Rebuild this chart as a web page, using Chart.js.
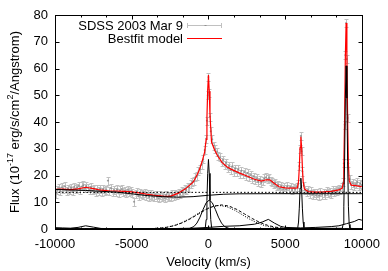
<!DOCTYPE html>
<html><head><meta charset="utf-8">
<script src="https://cdn.jsdelivr.net/npm/chart.js@4/dist/chart.umd.min.js"></script>
<style>html,body{margin:0;padding:0;background:#fff}#wrap{width:388px;height:271px}</style>
</head><body><div id="wrap"><canvas id="c" width="388" height="271"></canvas></div>
<script>
// ---- axis ticks ----
const xTickValues = [-10000, -5000, 0, 5000, 10000];
const xMinorTickValues = [-8333, -6667, -3333, -1667, 1667, 3333, 6667, 8333];
const yTickValues = [0, 10, 20, 30, 40, 50, 60, 70, 80];

// ---- observed spectrum [velocity km/s, flux] ----
const observed = [
[-9950,13.2],[-9850,14.6],[-9750,15.3],[-9650,14.1],[-9550,15.6],[-9450,14.8],[-9350,15.9],[-9250,14.3],[-9150,15.1],[-9050,14.6],
[-8950,15.4],[-8850,14.2],[-8750,15.8],[-8650,14.9],[-8550,15.5],[-8450,16.1],[-8350,14.7],[-8250,15.9],[-8150,16.3],[-8050,15.2],
[-7950,16.0],[-7850,15.4],[-7750,14.6],[-7650,15.7],[-7550,14.4],[-7450,15.1],[-7350,13.9],[-7250,14.8],[-7150,14.2],[-7050,15.0],
[-6950,13.8],[-6850,14.9],[-6750,14.1],[-6650,14.6],[-6550,18.1],[-6450,14.3],[-6350,15.2],[-6250,13.7],[-6150,14.5],[-6050,14.0],
[-5950,14.8],[-5850,13.6],[-5750,14.4],[-5650,14.9],[-5550,13.8],[-5450,14.3],[-5350,13.5],[-5250,14.6],[-5150,13.9],[-5050,14.2],
[-4950,13.4],[-4850,10.2],[-4750,13.1],[-4650,13.9],[-4550,12.4],[-4450,13.6],[-4350,13.0],[-4250,12.7],[-4150,13.5],[-4050,12.3],
[-3950,13.1],[-3850,12.0],[-3750,12.9],[-3650,12.4],[-3550,11.8],[-3450,12.8],[-3350,12.1],[-3250,11.5],[-3150,12.6],[-3050,11.9],
[-2950,12.4],[-2850,11.6],[-2750,12.8],[-2650,11.9],[-2550,12.5],[-2450,12.0],[-2350,13.1],[-2250,12.4],[-2150,13.0],[-2050,12.6],
[-1950,13.4],[-1850,13.0],[-1750,14.1],[-1650,13.7],[-1550,14.9],[-1450,14.6],[-1350,15.8],[-1250,15.5],[-1150,16.9],[-1050,17.6],
[-950,17.8],[-850,19.4],[-750,19.9],[-650,21.6],[-550,22.4],[-450,24.1],[-350,26.0],[-250,29.5],[-150,33.8],
[-100,40.5],[-50,50.0],[0,56.8],[50,51.0],[100,42.0],[150,36.5],[250,33.5],[350,31.2],[450,29.8],[550,28.9],
[650,27.4],[750,26.8],[850,24.9],[950,25.8],[1050,23.9],[1150,24.8],[1250,22.7],[1350,23.6],[1450,22.1],[1550,23.4],
[1650,21.5],[1750,22.6],[1850,21.2],[1950,22.3],[2050,20.6],[2150,21.8],[2250,20.4],[2350,21.3],[2450,19.7],[2550,20.9],
[2650,19.4],[2750,20.2],[2850,18.7],[2950,19.6],[3050,18.2],[3150,19.0],[3250,17.6],[3350,18.5],[3450,17.3],[3550,18.1],
[3650,18.9],[3750,19.3],[3850,18.6],[3950,19.1],[4050,18.0],[4150,17.6],[4250,16.8],[4350,17.2],[4450,15.9],[4550,16.4],
[4650,15.2],[4750,16.0],[4850,14.9],[4950,15.6],[5050,14.8],[5150,16.0],[5250,15.1],[5350,15.7],[5450,14.6],[5550,15.4],
[5650,14.9],[5750,15.8],[5850,16.9],[5920,23.5],[5970,29.8],[6020,34.8],[6070,29.0],[6120,21.5],[6200,16.2],[6300,14.6],
[6400,13.8],[6500,14.5],[6600,13.2],[6700,14.1],[6800,12.9],[6900,13.6],[7000,12.6],[7100,13.4],[7200,12.5],[7300,13.9],
[7400,12.8],[7500,13.5],[7600,12.7],[7700,14.2],[7800,13.3],[7900,14.0],[8000,13.1],[8100,14.4],[8200,13.8],[8300,14.6],
[8400,14.1],[8500,15.0],[8600,14.5],[8700,15.7],[8770,17.4],[8820,24.5],[8870,39.0],[8920,65.0],[8970,77.0],[9020,63.5],
[9070,41.5],[9120,24.5],[9200,18.6],[9300,16.5],[9400,17.1],[9500,16.0],[9600,16.8],[9700,17.5],[9800,16.2],[9900,17.0],[9975,16.4]
];
const observedError = 1.5;

// ---- best-fit model ----
const bestfit = [
[-10000,14.8],[-9500,14.9],[-9000,14.7],[-8500,15.0],[-8000,15.6],[-7500,15.1],[-7000,14.5],[-6500,14.3],[-6000,14.2],[-5500,14.1],
[-5000,13.9],[-4500,13.5],[-4000,13.0],[-3500,12.6],[-3000,12.3],[-2500,12.2],[-2000,13.3],[-1500,15.0],[-1000,17.5],[-800,19.5],
[-600,22.0],[-400,25.5],[-250,28.7],[-150,33.5],[-100,41.5],[-50,52.0],[0,57.6],[50,51.5],[100,42.5],[200,32.5],
[400,29.5],[600,27.3],[900,24.8],[1200,23.3],[1500,22.3],[2000,21.0],[2500,19.8],[3000,18.6],[3450,17.9],[3750,18.4],
[4000,18.4],[4300,17.0],[4600,15.8],[5000,15.4],[5500,15.3],[5800,15.4],[5870,17.8],[5920,23.0],[5970,30.5],[6020,34.5],
[6070,30.5],[6120,23.0],[6170,17.8],[6250,15.0],[6500,14.0],[7000,13.8],[7500,13.9],[8000,14.1],[8500,14.6],[8720,15.3],
[8770,17.0],[8820,23.8],[8870,40.5],[8920,64.5],[8970,77.0],[9020,64.5],[9070,40.5],[9120,24.0],[9170,18.0],[9300,16.4],
[9600,16.2],[10000,15.8]
];

// ---- model components ----
const continuum = [[-10000,14.8],[-8000,14.4],[-6000,13.8],[-4000,12.5],[-3000,12.1],[-2000,11.9],[-1000,12.1],[0,12.6],[1000,13.0],[2000,13.15],[4000,13.2],[10000,13.2]];
const continuumFlat = [[-10000,13.7],[10000,13.7]];
const feTemplate = [[-10000,0.5],[-9500,0.4],[-9000,0.3],[-8500,0.6],[-8000,1.2],[-7500,0.7],[-7000,0.2],[-6000,0.1],[-5000,0.2],[-4000,0.1],
[-3000,0.1],[-2000,0.2],[-1000,0.3],[0,0.6],[1000,1.0],[2000,1.2],[3000,1.8],[3500,2.6],[3900,3.6],[4300,2.2],[4700,1.0],[5000,0.6],
[6000,0.4],[7000,0.6],[8000,0.9],[8500,1.2],[9000,2.0],[9500,2.8],[9800,3.6],[10000,3.3]];
const broadDashed = [[-10000,0],[-4150,0.05],[-3150,0.32],[-2650,0.70],[-2150,1.38],[-1650,2.45],[-1150,3.92],[-650,5.63],[-150,7.31],[350,8.54],[850,9.0],
[1350,8.54],[1850,7.31],[2350,5.63],[2850,3.92],[3350,2.45],[3850,1.38],[4350,0.70],[4850,0.32],[5850,0.05],[10000,0]];
const broadDotted = [[-10000,0],[-4300,0.03],[-3300,0.25],[-2800,0.58],[-2300,1.19],[-1800,2.20],[-1300,3.62],[-800,5.34],[-300,7.05],[200,8.32],[700,8.8],
[1200,8.32],[1700,7.05],[2200,5.34],[2700,3.62],[3200,2.20],[3700,1.19],[4200,0.58],[4700,0.25],[5700,0.03],[10000,0]];
const intermediateLine = [[-10000,0],[-1550,0.02],[-1250,0.17],[-950,0.91],[-750,2.22],[-550,4.44],[-350,7.3],[-150,9.8],[50,10.8],
[250,9.8],[450,7.3],[650,4.44],[850,2.22],[1050,0.91],[1350,0.17],[1650,0.02],[10000,0]];
const narrowLine0 = [[-10000,0],[-250,0.1],[-200,0.75],[-150,3.5],[-100,10.7],[-50,20.8],[0,26.0],[50,20.8],[100,10.7],[150,3.5],[200,0.75],[250,0.1],[10000,0]];
const narrowLine6000 = [[-10000,0],[5770,0.07],[5820,0.55],[5870,2.6],[5920,7.8],[5970,15.2],[6020,19.0],[6070,15.2],[6120,7.8],[6170,2.6],[6220,0.55],[6270,0.07],[10000,0]];
const narrowLine9000 = [[-10000,0],[8720,0.25],[8770,1.7],[8820,8.3],[8870,25.1],[8920,48.9],[8970,61.0],[9020,48.9],[9070,25.1],[9120,8.3],[9170,1.7],[9220,0.25],[10000,0]];

const FONT = "'Liberation Sans', Arial, Helvetica, sans-serif";
const toXY = arr => arr.map(p => ({x: p[0], y: p[1]}));
const comp = (data, dash) => ({data: toXY(data), showLine: true, borderColor: '#000', borderWidth: 1,
  borderDash: dash || [], pointRadius: 0, tension: 0, order: 1});

const errorBarPlugin = {
  id: 'errbars',
  beforeDatasetsDraw(chart) {
    const {ctx, chartArea: a, scales: {x, y}} = chart;
    ctx.save();
    ctx.beginPath(); ctx.rect(a.left, a.top, a.right - a.left, a.bottom - a.top); ctx.clip();
    ctx.strokeStyle = '#c0c0c0'; ctx.lineWidth = 1;
    ctx.beginPath();
    observed.forEach(([v, f]) => {
      const px = Math.round(x.getPixelForValue(v)) + 0.5;
      const y1 = Math.round(y.getPixelForValue(f - observedError)) + 0.5;
      const y2 = Math.round(y.getPixelForValue(f + observedError)) + 0.5;
      ctx.moveTo(px, y1); ctx.lineTo(px, y2);
      ctx.moveTo(px - 2, y1); ctx.lineTo(px + 2, y1);
      ctx.moveTo(px - 2, y2); ctx.lineTo(px + 2, y2);
    });
    ctx.stroke();
    ctx.restore();
  }
};

const framePlugin = {
  id: 'frame',
  afterDatasetsDraw(chart) {
    const {ctx, chartArea: a, scales: {x, y}} = chart;
    const L = Math.round(a.left) + 0.5, R = Math.round(a.right) + 0.5;
    const T = Math.round(a.top) + 0.5, B = Math.round(a.bottom) + 0.5;
    ctx.save();
    ctx.strokeStyle = '#000'; ctx.lineWidth = 1;
    ctx.strokeRect(L, T, R - L, B - T);
    ctx.beginPath();
    yTickValues.forEach(v => {
      const py = Math.round(y.getPixelForValue(v)) + 0.5;
      ctx.moveTo(L, py); ctx.lineTo(L + 4, py);
      ctx.moveTo(R, py); ctx.lineTo(R - 4, py);
    });
    xTickValues.forEach(v => {
      const px = Math.round(x.getPixelForValue(v)) + 0.5;
      ctx.moveTo(px, B); ctx.lineTo(px, B - 4);
      ctx.moveTo(px, T); ctx.lineTo(px, T + 4);
    });
    xMinorTickValues.forEach(v => {
      const px = Math.round(x.getPixelForValue(v)) + 0.5;
      ctx.moveTo(px, B); ctx.lineTo(px, B - 2);
      ctx.moveTo(px, T); ctx.lineTo(px, T + 2);
    });
    ctx.stroke();

    // legend
    const ds = chart.data.datasets;
    ctx.font = '13px ' + FONT;
    ctx.fillStyle = '#000';
    ctx.textAlign = 'right'; ctx.textBaseline = 'middle';
    const tx = 183, s0 = 187, s1 = 222, r1 = 25, r2 = 38;
    ctx.fillText(ds[0].label, tx, r1 + 1);
    ctx.fillText(ds[1].label, tx, r2 + 1);
    ctx.strokeStyle = '#c0c0c0';
    ctx.beginPath();
    ctx.moveTo(s0, r1 + 0.5); ctx.lineTo(s1, r1 + 0.5);
    ctx.moveTo(s0 + 0.5, r1 - 2); ctx.lineTo(s0 + 0.5, r1 + 3);
    ctx.moveTo(s1 - 0.5, r1 - 2); ctx.lineTo(s1 - 0.5, r1 + 3);
    ctx.stroke();
    ctx.strokeStyle = '#909090';
    ctx.beginPath();
    const mx = Math.round((s0 + s1) / 2) + 0.5;
    ctx.moveTo(mx - 1, r1 + 0.5); ctx.lineTo(mx + 1, r1 + 0.5);
    ctx.stroke();
    ctx.strokeStyle = '#ff0000'; ctx.lineWidth = 1.2;
    ctx.beginPath(); ctx.moveTo(s0, r2 + 0.5); ctx.lineTo(s1, r2 + 0.5); ctx.stroke();
    ctx.restore();
  },
  afterDraw(chart) {
    const {ctx, chartArea: a} = chart;
    ctx.save();
    ctx.fillStyle = '#000';
    ctx.font = '13px ' + FONT;
    ctx.textAlign = 'center'; ctx.textBaseline = 'alphabetic';
    ctx.fillText('Velocity (km/s)', (a.left + a.right) / 2, 266);
    const parts = [['Flux (10', false], ['-17', true], [' erg/s/cm', false], ['2', true], ['/Angstrom)', false]];
    const big = '13px ' + FONT, small = '9px ' + FONT;
    let total = 0;
    parts.forEach(([t, sup]) => { ctx.font = sup ? small : big; total += ctx.measureText(t).width; });
    ctx.translate(19, (a.top + a.bottom) / 2);
    ctx.rotate(-Math.PI / 2);
    ctx.textAlign = 'left';
    let cx = -total / 2;
    parts.forEach(([t, sup]) => {
      ctx.font = sup ? small : big;
      ctx.fillText(t, cx, sup ? -6 : 0);
      cx += ctx.measureText(t).width;
    });
    ctx.restore();
  }
};

new Chart(document.getElementById('c'), {
  type: 'scatter',
  data: {
    datasets: [
      {label: 'SDSS 2003 Mar 9', data: toXY(observed), showLine: false, pointStyle: 'rect', pointRadius: 0.8,
       borderColor: '#8c8c8c', backgroundColor: '#8c8c8c', borderWidth: 0.5, order: 3},
      {label: 'Bestfit model', data: toXY(bestfit), showLine: true, borderColor: '#ff0000', borderWidth: 1.2,
       pointRadius: 0, tension: 0, order: 2},
      comp(continuum), comp(continuumFlat, [1.5, 2]), comp(feTemplate),
      comp(broadDashed, [3, 2]), comp(broadDotted, [1, 1.5]), comp(intermediateLine),
      comp(narrowLine0), comp(narrowLine6000), comp(narrowLine9000)
    ]
  },
  options: {
    responsive: false, animation: false, devicePixelRatio: 1,
    layout: {padding: {left: 0, right: 24, top: 15, bottom: 0}},
    plugins: {legend: {display: false}, tooltip: {enabled: false}},
    scales: {
      x: {
        type: 'linear', min: -10000, max: 10000,
        afterBuildTicks: s => { s.ticks = xTickValues.map(v => ({value: v})); },
        afterFit: s => { s.height = 42; },
        grid: {display: false, drawTicks: false}, border: {display: false},
        ticks: {padding: 8, color: '#000', font: {family: FONT, size: 13}, maxRotation: 0, autoSkip: false,
                callback: v => String(v)}
      },
      y: {
        type: 'linear', min: 0, max: 80,
        afterBuildTicks: s => { s.ticks = yTickValues.map(v => ({value: v})); },
        afterFit: s => { s.width = 55; },
        grid: {display: false, drawTicks: false}, border: {display: false},
        ticks: {padding: 7, color: '#000', font: {family: FONT, size: 13}, callback: v => String(v)}
      }
    }
  },
  plugins: [errorBarPlugin, framePlugin]
});
</script>
</body></html>
